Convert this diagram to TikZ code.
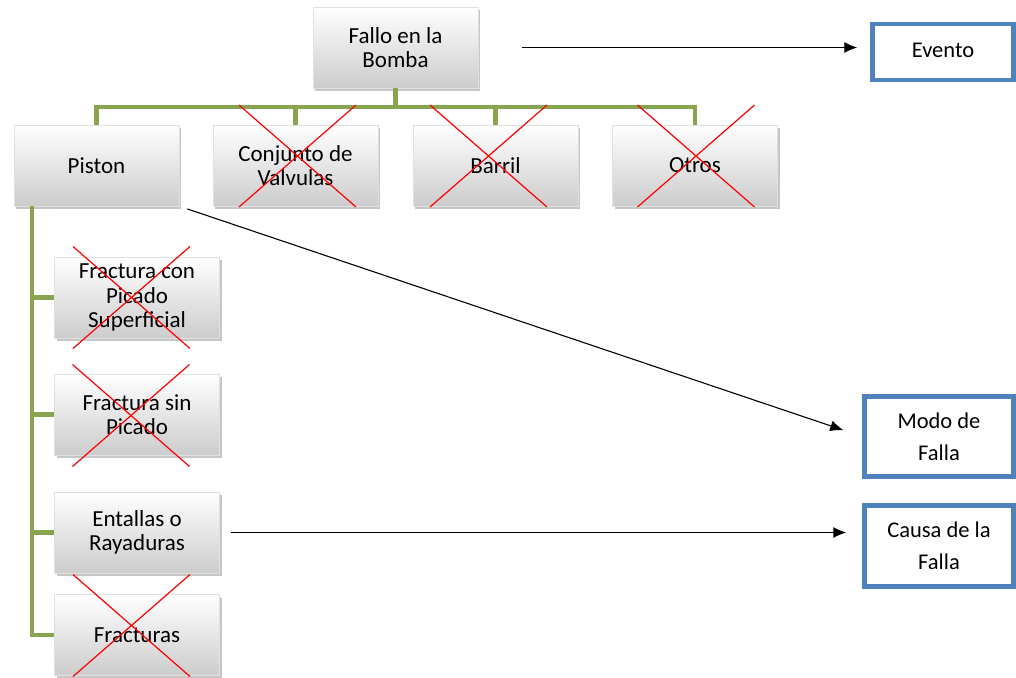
\documentclass[tikz,border=0pt]{standalone}
\usepackage{fontspec}
\setmainfont{Carlito}
\usetikzlibrary{shadows,arrows.meta}

\definecolor{verderama}{RGB}{137,164,78}
\definecolor{azulmarco}{RGB}{79,129,189}

\begin{document}
\begin{tikzpicture}[
				x=1pt, y=-1pt,
				caja/.style={minimum width=165pt, minimum height=81pt, align=center, inner sep=2pt,
						top color=white, bottom color=black!20, draw=black!12,
						drop shadow={shadow xshift=2pt, shadow yshift=-3pt, opacity=0.45},
						font=\fontsize{23}{24.5}\selectfont},
				marco/.style={draw=azulmarco, line width=4.5pt, align=center, fill=white,
						font=\fontsize{22.5}{32}\selectfont},
				rama/.style={draw=verderama, line width=4.5pt},
				tache/.style={red, line width=1.2pt},
				flecha/.style={-{Latex[length=13pt,width=11pt]}, line width=1.1pt},
			]
			\path[use as bounding box] (0,0) rectangle (1016,677);
			% arbol
			\node[caja] (fallo) at (395.5,47.5) {Fallo en la\\Bomba};
			\node[caja] (piston) at (96.5,165.5) {Piston};
			\node[caja] (conj) at (295.5,165.5) {Conjunto de\\Valvulas};
			\node[caja] (barril) at (495.5,165.5) {Barril};
			\node[caja] (otros) at (695,165.5) {Otros};
			\node[caja] (fraca) at (137,297.5) {Fractura con\\Picado\\Superficial};
			\node[caja] (fracb) at (137,414.5) {Fractura sin\\Picado};
			\node[caja] (entallas) at (137,532.5) {Entallas o\\Rayaduras};
			\node[caja] (fracd) at (137,635) {Fracturas};
			% leyenda
			\node[marco, minimum width=141pt, minimum height=56pt, text depth=4pt] (evento) at (943,52) {Evento};
			\node[marco, minimum width=149pt, minimum height=80pt] (modo) at (939,436.5) {Modo de\\Falla};
			\node[marco, minimum width=149pt, minimum height=81pt] (causa) at (939,546) {Causa de la\\Falla};
			% conectores
			\coordinate (bus) at (395.5,107);
			\coordinate (tronco) at (32,206);
			\draw[rama] (fallo.south) -- (fallo.south |- bus);
			\draw[rama] (piston.north) |- (bus) -| (otros.north);
			\draw[rama] (conj.north) -- (conj.north |- bus);
			\draw[rama] (barril.north) -- (barril.north |- bus);
			\draw[rama] (tronco) |- (fracd.west);
			\foreach \n in {fraca,fracb,entallas}
				\draw[rama] (tronco |- \n.west) -- (\n.west);
			% descartados
			\foreach \n/\dx/\dy in {conj/2/-9.5, barril/-7/-9.5, otros/1/-9.5, fraca/-5.5/0, fracb/-6/1, fracd/-5.5/-9.5}
				\draw[tache] (\n) ++(\dx-58.5,\dy-51) -- ++(117,102) (\n) ++(\dx+58.5,\dy-51) -- ++(-117,102);
			% flechas
			\draw[flecha, shorten <=44pt, shorten >=13pt] (fallo.east) -- (fallo.east -| evento.west);
			\draw[flecha, shorten <=8.5pt, shorten >=20pt] (piston.south east) -- (modo.west);
			\draw[flecha, shorten <=11pt, shorten >=16pt] (entallas.east) -- (entallas.east -| causa.west);
		\end{tikzpicture}
\end{document}
